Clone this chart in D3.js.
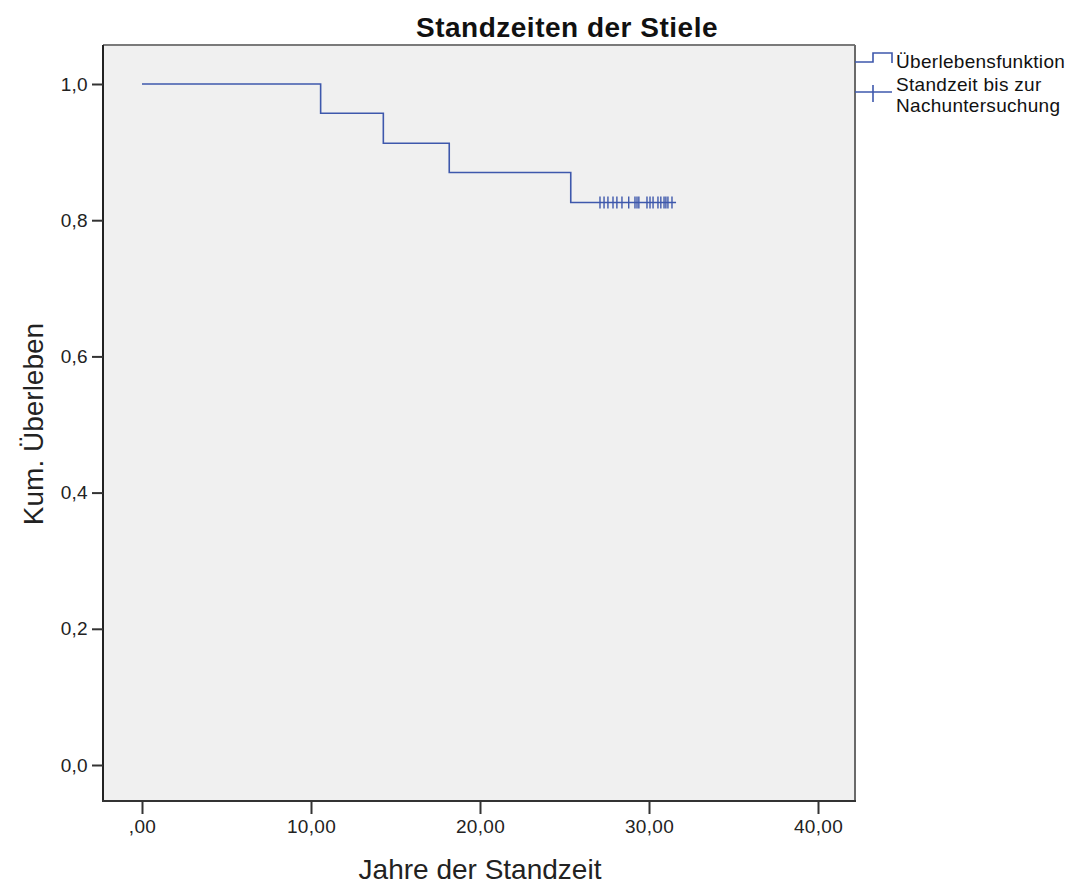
<!DOCTYPE html>
<html>
<head>
<meta charset="utf-8">
<script src="https://cdn.jsdelivr.net/npm/d3@7"></script>
<style>
  body { margin: 0; background: #fff; }
  svg { font-family: "Liberation Sans", Arial, sans-serif; }
</style>
</head>
<body>
<svg id="chart" width="1074" height="886"></svg>
<script>
// data
var eventTimes = [0, 10.57, 14.28, 18.18, 25.37];
var survival = [1.0, 0.957, 0.913, 0.870, 0.826];
var censorTimes = [27.1, 27.34, 27.57, 27.87, 28.1, 28.4, 28.8, 29.17, 29.29, 29.4,
                   29.88, 30.06, 30.24, 30.53, 30.7, 30.89, 31.0, 31.12, 31.36];
var endTime = 31.6;
var xTicks = [0, 10, 20, 30, 40];
var yTicks = [0, 0.2, 0.4, 0.6, 0.8, 1.0];
var legendLabels = ["Überlebensfunktion", ["Standzeit bis zur", "Nachuntersuchung"]];

// set the frame of the plot
var frame = {left: 103, top: 45, right: 855, bottom: 801};
var lineColor = "#3e58ac";

var svg = d3.select("#chart");

var x = d3.scaleLinear().domain([0, 40]).range([142, 818]);
var y = d3.scaleLinear().domain([0, 1]).range([765, 84]);

var de = d3.formatLocale({decimal: ",", thousands: ".", grouping: [3], currency: ["", " €"]});
var fmtX = function(d) { return d === 0 ? ",00" : de.format(".2f")(d); };
var fmtY = de.format(".1f");

// plot background
svg.append("rect")
    .attr("x", frame.left).attr("y", frame.top)
    .attr("width", frame.right - frame.left)
    .attr("height", frame.bottom - frame.top)
    .attr("fill", "#f0f0f0");

// frame edges
svg.append("line").attr("x1", frame.left).attr("x2", frame.right)
    .attr("y1", frame.top).attr("y2", frame.top)
    .attr("stroke", "#7a7a7a").attr("stroke-width", 2);
svg.append("line").attr("x1", frame.right).attr("x2", frame.right)
    .attr("y1", frame.top).attr("y2", frame.bottom)
    .attr("stroke", "#6a6a6a").attr("stroke-width", 2);
svg.append("line").attr("x1", frame.left).attr("x2", frame.left)
    .attr("y1", frame.top).attr("y2", frame.bottom + 1)
    .attr("stroke", "#222").attr("stroke-width", 2);
svg.append("line").attr("x1", frame.left - 1).attr("x2", frame.right + 1)
    .attr("y1", frame.bottom).attr("y2", frame.bottom)
    .attr("stroke", "#333").attr("stroke-width", 2);

// axes
var gx = svg.append("g")
    .attr("transform", "translate(0," + frame.bottom + ")")
    .call(d3.axisBottom(x).tickValues(xTicks).tickFormat(fmtX).tickSize(13).tickPadding(6));
var gy = svg.append("g")
    .attr("transform", "translate(" + frame.left + ",0)")
    .call(d3.axisLeft(y).tickValues(yTicks).tickFormat(fmtY).tickSize(11).tickPadding(4));

[gx, gy].forEach(function(g) {
  g.select(".domain").remove();
  g.selectAll(".tick line").attr("stroke", "#333").attr("stroke-width", 2);
  g.selectAll(".tick text").attr("fill", "#222")
      .style("font-size", "19px").style("letter-spacing", "0.3px")
      .style("font-family", "Liberation Sans, Arial, sans-serif");
});

// survival step line
var pts = eventTimes.map(function(t, i) { return [t, survival[i]]; });
pts.push([endTime, survival[survival.length - 1]]);

var stepLine = d3.line()
    .curve(d3.curveStepAfter)
    .x(function(d) { return x(d[0]); })
    .y(function(d) { return y(d[1]); });

svg.append("path")
    .datum(pts)
    .attr("d", stepLine)
    .attr("fill", "none")
    .attr("stroke", lineColor)
    .attr("stroke-width", 1.6);

// censored marks
var lastS = survival[survival.length - 1];
svg.selectAll(".censor")
    .data(censorTimes)
  .enter().append("line")
    .attr("class", "censor")
    .attr("x1", function(d) { return x(d); })
    .attr("x2", function(d) { return x(d); })
    .attr("y1", y(lastS) - 6)
    .attr("y2", y(lastS) + 6)
    .attr("stroke", lineColor)
    .attr("stroke-width", 1.4);

// title
svg.append("text")
    .attr("x", 567).attr("y", 37)
    .attr("text-anchor", "middle")
    .style("font-size", "28px").style("font-weight", "bold")
    .style("letter-spacing", "0.5px")
    .attr("fill", "#111")
    .text("Standzeiten der Stiele");

// axis titles
svg.append("text")
    .attr("x", 480).attr("y", 879)
    .attr("text-anchor", "middle")
    .style("font-size", "28px").attr("fill", "#222")
    .text("Jahre der Standzeit");

svg.append("text")
    .attr("transform", "translate(43,424) rotate(-90)")
    .attr("text-anchor", "middle")
    .style("font-size", "28px").attr("fill", "#222")
    .text("Kum. Überleben");

// legend
var leg = svg.append("g");
leg.append("path")
    .attr("d", d3.line()([[855, 62], [873, 62], [873, 53], [892, 53], [892, 63]]))
    .attr("fill", "none").attr("stroke", lineColor).attr("stroke-width", 1.6);
leg.append("line").attr("x1", 855).attr("x2", 892).attr("y1", 92).attr("y2", 92)
    .attr("stroke", lineColor).attr("stroke-width", 1.6);
leg.append("line").attr("x1", 873).attr("x2", 873).attr("y1", 85).attr("y2", 102)
    .attr("stroke", lineColor).attr("stroke-width", 1.6);

var legText = [legendLabels[0], legendLabels[1][0], legendLabels[1][1]];
var legY = [68, 91, 112];
leg.selectAll(".legtext")
    .data(legText)
  .enter().append("text")
    .attr("class", "legtext")
    .attr("x", 896)
    .attr("y", function(d, i) { return legY[i]; })
    .style("font-size", "19px").style("letter-spacing", "0.3px")
    .attr("fill", "#111")
    .text(function(d) { return d; });
</script>
</body>
</html>
